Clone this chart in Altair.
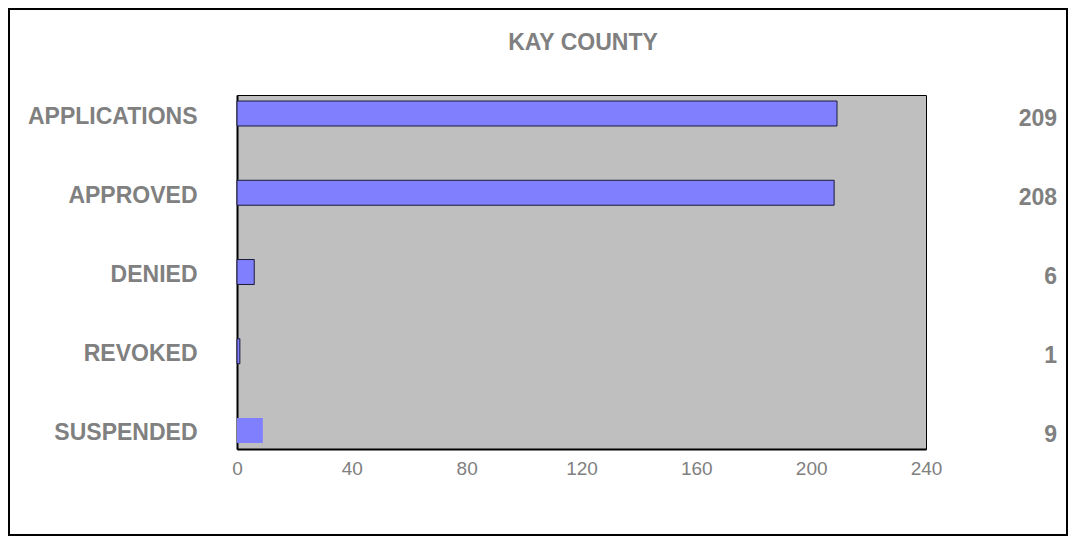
import altair as alt
import pandas as pd

categories = ["APPLICATIONS", "APPROVED", "DENIED", "REVOKED", "SUSPENDED"]
values = [209, 208, 6, 1, 9]
x_ticks = [0, 40, 80, 120, 160, 200, 240]
title_text = ["KAY COUNTY"]

df = pd.DataFrame({"category": categories, "value": values})

FONT = "Liberation Sans"
GRAY = "#808080"

y_enc = alt.Y(
    "category:N",
    sort=categories,
    scale=alt.Scale(paddingInner=0.685, paddingOuter=0.076),
    axis=alt.Axis(
        title=None,
        domain=True,
        domainColor="black",
        domainWidth=2,
        ticks=False,
        labelPadding=40,
        labelFont=FONT,
        labelFontSize=23,
        labelFontWeight="bold",
        labelColor=GRAY,
        labelLimit=400,
        labelOffset=3,
    ),
)

x_enc = alt.X(
    "value:Q",
    scale=alt.Scale(domain=[0, 240], nice=False),
    axis=alt.Axis(
        title=None,
        values=x_ticks,
        grid=False,
        ticks=False,
        domain=True,
        domainColor="black",
        domainWidth=2,
        labelPadding=10,
        labelFont=FONT,
        labelFontSize=19,
        labelColor=GRAY,
        labelFlush=False,
    ),
)

base = alt.Chart(df)

bars = base.mark_bar(fill="#8080FF", stroke="#1a1a3a").encode(
    x=x_enc,
    y=y_enc,
    strokeWidth=alt.condition(
        "datum.category === 'SUSPENDED'", alt.value(0), alt.value(1)
    ),
)

value_labels = base.mark_text(
    align="right",
    baseline="middle",
    font=FONT,
    fontSize=23,
    fontWeight="bold",
    color=GRAY,
    dy=5,
).encode(
    x=alt.value(820),
    y=y_enc,
    text=alt.Text("value:Q"),
)

title = alt.Chart(pd.DataFrame({"t": title_text})).mark_text(
    align="center",
    baseline="middle",
    font=FONT,
    fontSize=23,
    fontWeight="bold",
    color=GRAY,
).encode(
    x=alt.value(346),
    y=alt.value(-52),
    text="t:N",
)

frame = alt.Chart(pd.DataFrame({"t": title_text})).mark_rect(
    fill="transparent", stroke="black", strokeWidth=2
).encode(
    x=alt.value(-228),
    x2=alt.value(830),
    y=alt.value(-86),
    y2=alt.value(440),
)

chart = (
    alt.layer(frame, bars, value_labels, title)
    .properties(
        width=689,
        height=354,
        autosize=alt.AutoSizeParams(type="none"),
        padding={"left": 229, "top": 87, "right": 142, "bottom": 87},
        background="white",
    )
    .configure_view(fill="#BFBFBF", stroke="black", strokeWidth=1)
)

chart.save("out.html", embed_options={"renderer": "svg", "actions": False})
